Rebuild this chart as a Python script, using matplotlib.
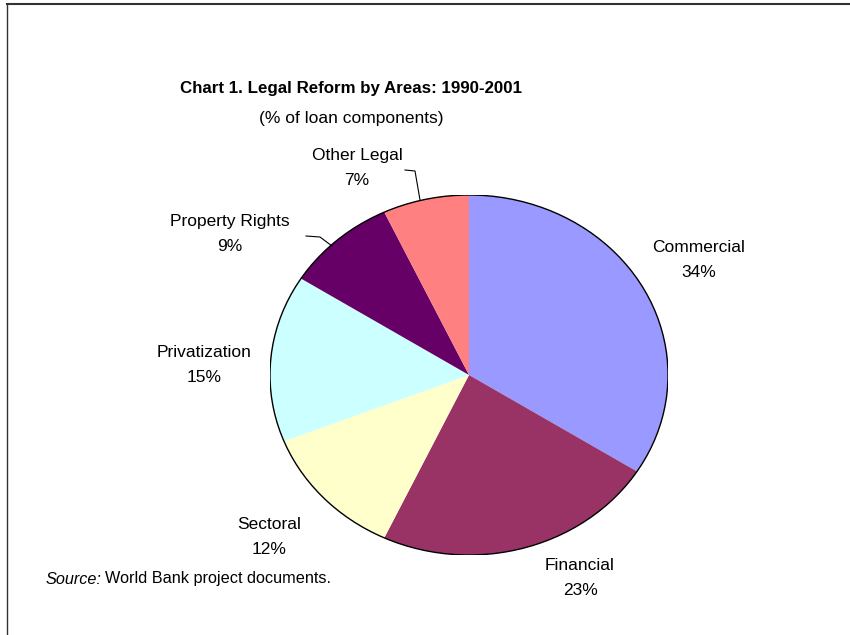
import matplotlib
matplotlib.use('Agg')
import matplotlib.pyplot as plt
from matplotlib.lines import Line2D
from matplotlib.patches import Circle

plt.rcParams['font.family'] = ['Liberation Sans', 'DejaVu Sans']

# 데이터
areas = ['Commercial', 'Financial', 'Sectoral', 'Privatization', 'Property Rights', 'Other Legal']
shares = [34, 23, 12, 15, 9, 7]
colors = ['#9999FF', '#993366', '#FFFFCC', '#CCFFFF', '#660066', '#FF8080']

# 라벨 위치 (픽셀, 텍스트 중심)
label_pos = [(699, 260), (580, 578), (269, 537), (204, 365), (230, 234), (357, 168)]

W, H = 850, 635
fig = plt.figure(figsize=(W / 100, H / 100), dpi=100)


def fx(px):
    return px / W


def fy(py):
    return 1 - py / H


# 파이 영역 (타원)
cx, cy, rx, ry = 469, 375, 199, 180
ax = fig.add_axes([fx(cx - rx), fy(cy + ry), 2 * rx / W, 2 * ry / H])
ax.pie(shares, colors=colors, startangle=90, counterclock=False,
       wedgeprops={'linewidth': 0})
ax.add_patch(Circle((0, 0), 1, fill=False, edgecolor='black', linewidth=1.0))
ax.set_aspect('auto')
ax.set_xlim(-1, 1)
ax.set_ylim(-1, 1)
ax.axis('off')

# 라벨
for name, val, (px, py) in zip(areas, shares, label_pos):
    fig.text(fx(px), fy(py), f"{name}\n{val}%", ha='center', va='center',
             fontsize=12.5, linespacing=1.9)

# 지시선
leaders = [
    [(405, 170), (415, 171), (420, 200)],
    [(306, 236), (320, 237), (332, 246)],
]
for pts in leaders:
    xs = [fx(p[0]) for p in pts]
    ys = [fy(p[1]) for p in pts]
    fig.add_artist(Line2D(xs, ys, color='black', linewidth=0.8))

# 제목
fig.text(fx(351), fy(89), 'Chart 1. Legal Reform by Areas: 1990-2001',
         ha='center', va='center', fontsize=12.2, fontweight='bold')
fig.text(fx(351), fy(118), '(% of loan components)',
         ha='center', va='center', fontsize=12.5)

# 출처
src = fig.text(fx(46), fy(579), 'Source:', ha='left', va='center',
               fontsize=11.7, fontstyle='italic')
fig.canvas.draw()
bb = src.get_window_extent()
fig.text(bb.x1 / W + 0.004, fy(579), 'World Bank project documents.',
         ha='left', va='center', fontsize=11.7)

# 테두리 (위, 왼쪽)
fig.add_artist(Line2D([fx(7), 1], [fy(4), fy(4)], color='#333333', linewidth=1.5))
fig.add_artist(Line2D([fx(7), fx(7)], [fy(4), 0], color='#333333', linewidth=1.0))

fig.savefig('out.png', dpi=100)
